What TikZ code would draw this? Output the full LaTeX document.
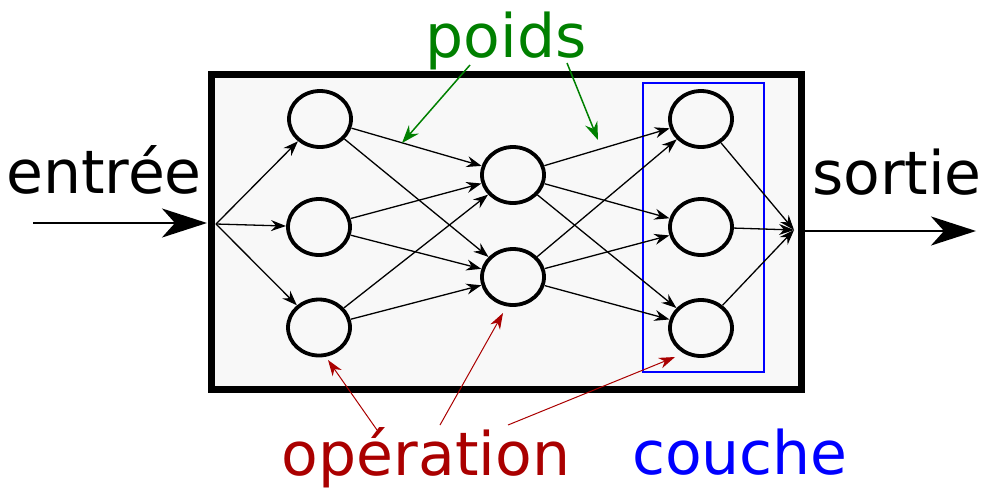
\documentclass[tikz,border=0pt]{standalone}
\usepackage{fontspec}
\setmainfont{DejaVu Sans}
\usetikzlibrary{arrows.meta,shapes.geometric}
\definecolor{boxfill}{HTML}{F8F8F8}
\definecolor{wgreen}{HTML}{008000}
\definecolor{opred}{HTML}{AA0000}
\definecolor{layblue}{HTML}{0000FF}
\tikzset{
  neuron/.style={ellipse,draw=black,line width=3.8pt,fill=boxfill,minimum width=62pt,minimum height=56pt,inner sep=0pt,outer sep=2pt},
  netarrow/.style={draw=black,line width=1.3pt,-{Stealth[length=15pt,width=11pt,inset=5pt]}},
  bigarrow/.style={draw=black,line width=2.6pt,-{Stealth[length=45pt,width=29pt,inset=13pt]}},
  greenarrow/.style={draw=wgreen,line width=1.5pt,-{Stealth[length=18pt,width=13pt,inset=6pt]}},
  redarrow/.style={draw=opred,line width=1pt,-{Stealth[length=16pt,width=11pt,inset=5pt]}},
  label/.style={font=\fontsize{60}{72}\selectfont,inner sep=0pt,anchor=base}
}
\begin{document}
\begin{tikzpicture}[x=1pt,y=-1pt]
\useasboundingbox (0,0) rectangle (984,488);
% outer box
\node[draw=black,line width=7pt,fill=boxfill,minimum width=590pt,minimum height=315pt,inner sep=0pt] (box) at (506,231.5) {};
% layer box
\node[draw=layblue,line width=2.3pt,minimum width=121pt,minimum height=289pt,inner sep=0pt] (layer) at (703.5,227.5) {};
% neurons
\node[neuron] (a1) at (320,119) {};
\node[neuron] (a2) at (319,227) {};
\node[neuron] (a3) at (319,327.5) {};
\node[neuron] (b1) at (513,175) {};
\node[neuron] (b2) at (513,277) {};
\node[neuron] (c1) at (701,119) {};
\node[neuron] (c2) at (701,227) {};
\node[neuron] (c3) at (701,328) {};
\coordinate (in) at (216,224);
\coordinate (out) at (794,230);
\coordinate (instart) at (33,223);
\coordinate (inend) at (207,223);
\coordinate (outstart) at (801,231);
\coordinate (outend) at (976,231);
% connections
\foreach \t in {a1,a2,a3} \draw[netarrow] (in) -- (\t);
\foreach \s in {a1,a2,a3} \foreach \t in {b1,b2} \draw[netarrow] (\s) -- (\t);
\foreach \s in {b1,b2} \foreach \t in {c1,c2,c3} \draw[netarrow] (\s) -- (\t);
\foreach \s in {c1,c2,c3} \draw[netarrow] (\s) -- (out);
\draw[bigarrow] (instart) -- (inend);
\draw[bigarrow] (outstart) -- (outend);
% labels
\node[label] (entree) at (104,193) {entrée};
\node[label] (sortie) at (897,194) {sortie};
\node[label,text=wgreen] (poids) at (506,57) {poids};
\node[label,text=opred] (operation) at (426,475) {opération};
\node[label,text=layblue] (couche) at (740,474) {couche};
% annotation arrows
\coordinate (g1s) at (470,65);
\coordinate (g1e) at (402,143);
\coordinate (g2s) at (567,63);
\coordinate (g2e) at (598,140);
\draw[greenarrow] (g1s) -- (g1e);
\draw[greenarrow] (g2s) -- (g2e);
\coordinate (r1s) at (377,430);
\coordinate (r1e) at (328,360);
\coordinate (r2s) at (440,425);
\coordinate (r2e) at (503,313);
\coordinate (r3s) at (508,425);
\coordinate (r3e) at (675,357);
\draw[redarrow] (r1s) -- (r1e);
\draw[redarrow] (r2s) -- (r2e);
\draw[redarrow] (r3s) -- (r3e);
\end{tikzpicture}
\end{document}
